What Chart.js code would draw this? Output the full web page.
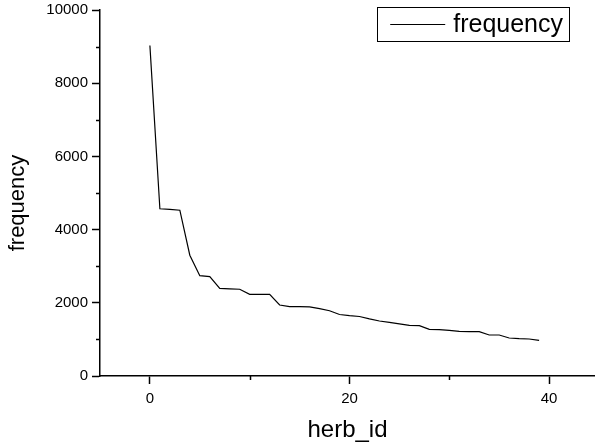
<!DOCTYPE html>
<html>
<head>
<meta charset="utf-8">
<script src="https://cdn.jsdelivr.net/npm/chart.js@4.4.1/dist/chart.umd.min.js"></script>
<style>
  html, body { margin: 0; padding: 0; background: #fff; }
  #wrap { width: 595px; height: 447px; position: relative; }
</style>
</head>
<body>
<div id="wrap"><canvas id="c"></canvas></div>
<script>
// ---- data ----
const herbIds = [0,1,2,3,4,5,6,7,8,9,10,11,12,13,14,15,16,17,18,19,20,21,22,23,24,25,26,27,28,29,30,31,32,33,34,35,36,37,38,39];
const frequency = [9030,4570,4555,4530,3300,2740,2715,2395,2380,2370,2232,2232,2232,1940,1893,1893,1890,1840,1784,1680,1648,1625,1560,1503,1467,1426,1385,1375,1275,1266,1248,1220,1211,1211,1120,1120,1038,1020,1011,975];
const seriesName = 'frequency';
const xMajorTicks = [0, 20, 40];
const xMinorTicks = [10, 30];
const yMajorTicks = [0, 2000, 4000, 6000, 8000, 10000];
const yMinorTicks = [1000, 3000, 5000, 7000, 9000];
const xTitle = 'herb_id';
const yTitle = 'frequency';

const FONT = "'Liberation Sans', Arial, sans-serif";

const points = herbIds.map((x, i) => ({ x: x, y: frequency[i] }));

const minorTicksPlugin = {
  id: 'minorTicks',
  afterDraw(chart) {
    const ctx = chart.ctx;
    const xs = chart.scales.x, ys = chart.scales.y;
    const len = 4;
    ctx.save();
    ctx.strokeStyle = '#000';
    ctx.lineWidth = 1.5;
    ctx.beginPath();
    xMinorTicks.forEach(v => {
      const px = Math.round(xs.getPixelForValue(v)) + 0.5;
      ctx.moveTo(px, ys.bottom);
      ctx.lineTo(px, ys.bottom + len);
    });
    yMinorTicks.forEach(v => {
      const py = Math.round(ys.getPixelForValue(v)) + 0.5;
      ctx.moveTo(xs.left, py);
      ctx.lineTo(xs.left - len, py);
    });
    ctx.stroke();
    ctx.restore();
  }
};

// y-axis title drawn slightly below the axis centre, as in the reference
const yTitlePlugin = {
  id: 'yTitle',
  afterDraw(chart) {
    const ctx = chart.ctx;
    const ca = chart.chartArea;
    ctx.save();
    ctx.font = '22px ' + FONT;
    ctx.fillStyle = '#000';
    ctx.textAlign = 'center';
    ctx.textBaseline = 'middle';
    ctx.translate(18, (ca.top + ca.bottom) / 2 + 10);
    ctx.rotate(-Math.PI / 2);
    ctx.fillText(yTitle, 0, 0);
    ctx.restore();
  }
};

const boxLegendPlugin = {
  id: 'boxLegend',
  afterDraw(chart) {
    const ctx = chart.ctx;
    const ca = chart.chartArea;
    const ds = chart.data.datasets[0];
    ctx.save();
    ctx.font = '25px ' + FONT;
    const tw = ctx.measureText(ds.label).width;
    const right = ca.right - 26;
    const top = ca.top - 3;
    const h = 34;
    const lineLen = 55;
    const w = 13 + lineLen + 8 + tw + 6;
    const left = right - w;
    ctx.strokeStyle = '#000';
    ctx.lineWidth = 1;
    ctx.strokeRect(Math.round(left) + 0.5, Math.round(top) + 0.5, Math.round(w), h);
    const cy = Math.round(top + h / 2) + 0.5;
    ctx.strokeStyle = ds.borderColor;
    ctx.lineWidth = 1.2;
    ctx.beginPath();
    ctx.moveTo(left + 13, cy);
    ctx.lineTo(left + 13 + lineLen, cy);
    ctx.stroke();
    ctx.fillStyle = '#000';
    ctx.textBaseline = 'middle';
    ctx.textAlign = 'left';
    ctx.fillText(ds.label, left + 13 + lineLen + 8, top + h / 2 + 1);
    ctx.restore();
  }
};

new Chart(document.getElementById('c'), {
  type: 'line',
  data: {
    datasets: [{
      label: seriesName,
      data: points,
      borderColor: '#000',
      borderWidth: 1.2,
      pointRadius: 0,
      fill: false,
      tension: 0
    }]
  },
  options: {
    responsive: true,
    maintainAspectRatio: false,
    animation: false,
    devicePixelRatio: 1,
    layout: { padding: { top: 10, right: 0, left: 0, bottom: 0 } },
    plugins: {
      legend: { display: false },
      tooltip: { enabled: false }
    },
    scales: {
      x: {
        type: 'linear',
        min: -5,
        max: 44.6,
        afterBuildTicks: (s) => { s.ticks = xMajorTicks.map(v => ({ value: v })); },
        afterFit: (s) => { s.height = 71; s.paddingLeft = 0; s.paddingRight = 0; },
        border: { display: true, color: '#000', width: 1.5 },
        grid: { display: true, drawOnChartArea: false, drawTicks: true, tickLength: 8, tickColor: '#000', tickWidth: 1.5 },
        ticks: { color: '#000', font: { family: FONT, size: 15 }, padding: 6, maxRotation: 0, autoSkip: false },
        title: { display: true, text: xTitle, color: '#000', font: { family: FONT, size: 24 }, padding: { top: 0, bottom: 2 } }
      },
      y: {
        type: 'linear',
        min: 0,
        max: 10000,
        afterBuildTicks: (s) => { s.ticks = yMajorTicks.map(v => ({ value: v })); },
        afterFit: (s) => { s.width = 100; s.paddingTop = 0; s.paddingBottom = 0; },
        border: { display: true, color: '#000', width: 1.5 },
        grid: { display: true, drawOnChartArea: false, drawTicks: true, tickLength: 8, tickColor: '#000', tickWidth: 1.5 },
        ticks: { color: '#000', font: { family: FONT, size: 15 }, padding: 4, autoSkip: false, callback: (v) => String(v) },
        title: { display: false, text: yTitle }
      }
    }
  },
  plugins: [minorTicksPlugin, yTitlePlugin, boxLegendPlugin]
});
</script>
</body>
</html>
